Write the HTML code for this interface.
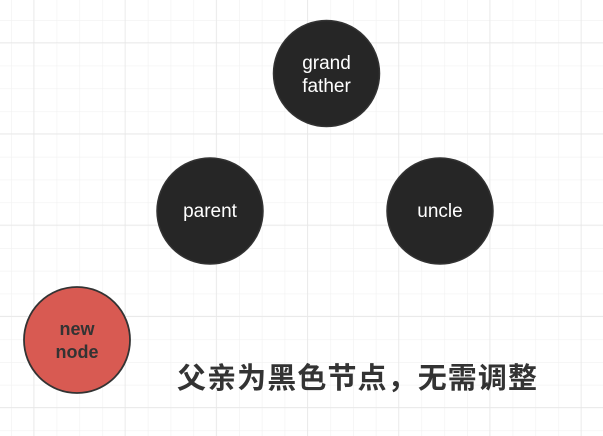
<!DOCTYPE html>
<html><head><meta charset="utf-8"><style>
html,body{margin:0;padding:0;background:#fff;}
svg{display:block;}
</style></head><body>
<svg width="603" height="436" xmlns="http://www.w3.org/2000/svg">
<defs>
<pattern id="minor" x="11" y="20" width="22.8" height="22.8" patternUnits="userSpaceOnUse">
<path d="M0 0V22.8M0 0H22.8" stroke="#f1f1f1" stroke-width="1.2" fill="none"/>
</pattern>
<pattern id="major" x="33.5" y="42.3" width="91.2" height="91.2" patternUnits="userSpaceOnUse">
<path d="M0 0V91.2M0 0H91.2" stroke="#e6e6e6" stroke-width="1.4" fill="none"/>
</pattern>
</defs>
<rect width="603" height="436" fill="#fff"/>
<rect width="603" height="436" fill="url(#minor)"/>
<rect width="603" height="436" fill="url(#major)"/>
<g font-family="'Liberation Sans', 'Noto Sans CJK SC', sans-serif" text-anchor="middle">
<circle cx="326.5" cy="73.5" r="53" fill="#262626" stroke="#333" stroke-width="1.5"/>
<text x="326.5" y="69" font-size="19" fill="#fff">grand</text>
<text x="326.5" y="92" font-size="19" fill="#fff">father</text>
<circle cx="210" cy="211" r="53" fill="#262626" stroke="#333" stroke-width="1.5"/>
<text x="210" y="217" font-size="19" fill="#fff">parent</text>
<circle cx="440" cy="211" r="53" fill="#262626" stroke="#333" stroke-width="1.5"/>
<text x="440" y="217" font-size="19" fill="#fff">uncle</text>
<circle cx="77" cy="340" r="53" fill="#d85a52" stroke="#333" stroke-width="1.8"/>
<text x="77" y="335" font-size="18" font-weight="bold" fill="#333">new</text>
<text x="77" y="358" font-size="18" font-weight="bold" fill="#333">node</text>
<text x="177" y="388" font-size="29" font-weight="bold" fill="#333" text-anchor="start" textLength="360" lengthAdjust="spacing">父亲为黑色节点，无需调整</text>
</g>
</svg>
</body></html>
